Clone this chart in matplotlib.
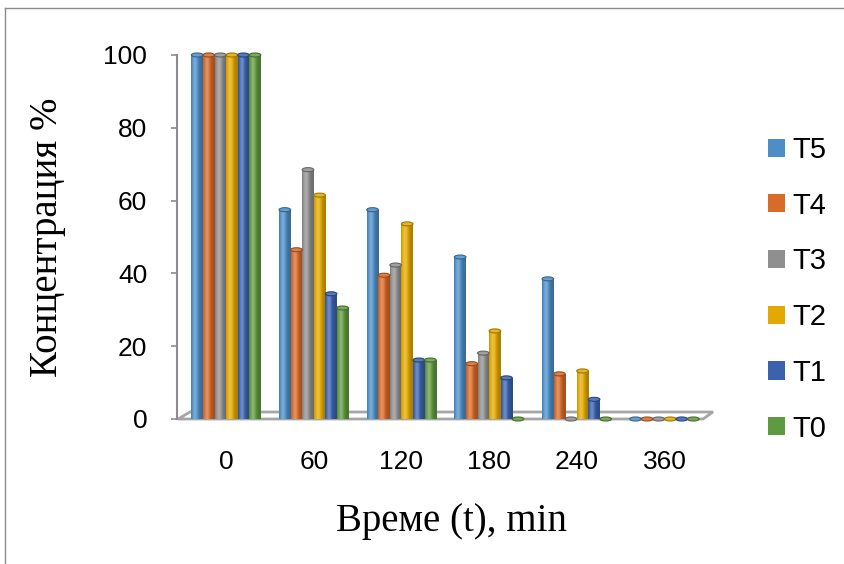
import numpy as np
import matplotlib
matplotlib.use('Agg')
import matplotlib.pyplot as plt
from matplotlib.patches import Ellipse, Polygon
from matplotlib.lines import Line2D
from matplotlib.colors import to_rgb

# data
times = ['0', '60', '120', '180', '240', '360']
series = ['T5', 'T4', 'T3', 'T2', 'T1', 'T0']
t5 = [100, 57.5, 57.5, 44.5, 38.5, 0]
t4 = [100, 46.5, 39.5, 15.2, 12.4, 0]
t3 = [100, 68.5, 42.3, 18.1, 0, 0]
t2 = [100, 61.5, 53.6, 24.2, 13.2, 0]
t1 = [100, 34.4, 16.2, 11.3, 5.4, 0]
t0 = [100, 30.5, 16.2, 0, 0, 0]
values = [t5, t4, t3, t2, t1, t0]
colors = ['#4e8ec7', '#d76b2a', '#8f8f8f', '#e3a900', '#3b62ad', '#609a40']

W, H = 844, 564
fig = plt.figure(figsize=(W / 100, H / 100), dpi=100)

# axes box in pixels: left 177, right 703, y=0 at 419, y=100 at 55
ax = fig.add_axes([177 / W, 1 - 419 / H, (703 - 177) / W, (419 - 55) / H])
ax.set_facecolor('none')

x = np.arange(len(times))
bw = 0.132
n = len(series)


def shade(rgb, t):
    # cylinder-like shading across the bar width
    k = 0.76 + 0.5 * np.exp(-((t - 0.33) / 0.28) ** 2)
    rgb = np.array(rgb)[None, :]
    k = k[:, None]
    dark = rgb * np.minimum(k, 1)
    light = rgb + (1 - rgb) * np.maximum(k - 1, 0)
    return np.where(k <= 1, dark, light)


px_per_unit = (419 - 55) / 100
cap_h = 4.0 / px_per_unit

bars = []
for i, (name, vals, col) in enumerate(zip(series, values, colors)):
    offs = (i - (n - 1) / 2) * bw
    b = ax.bar(x + offs, vals, width=bw, color=col, edgecolor='none',
               label=name, zorder=2)
    bars.append(b)
    rgb = to_rgb(col)
    grad = shade(rgb, np.linspace(0, 1, 40))[None, :, :]
    for p, v in zip(b.patches, vals):
        x0 = p.get_x()
        x1 = x0 + p.get_width()
        if v > 0:
            im = ax.imshow(grad, extent=[x0, x1, 0, v], aspect='auto',
                           interpolation='bilinear', zorder=2.1)
            im.set_clip_path(p)
        top_c = tuple(np.array(rgb) * 0.85 + 0.15)
        edge_c = tuple(np.array(rgb) * 0.7)
        ax.add_patch(Ellipse((x0 + p.get_width() / 2, v), p.get_width(),
                             cap_h, facecolor=top_c, edgecolor=edge_c,
                             linewidth=0.8, zorder=2.2, clip_on=False))

ax.set_xlim(-0.56, 5.44)
ax.set_ylim(0, 100)

# floor of the 3d plot
floor = [(178, 419), (703, 419), (713, 412), (190, 412)]
floor = [(px / W, 1 - py / H) for px, py in floor]
ax.add_artist(Polygon(floor, closed=True, transform=fig.transFigure,
                      facecolor='white', edgecolor='#a6a6a6', linewidth=2,
                      zorder=1, clip_on=False))

for s in ['top', 'right', 'bottom']:
    ax.spines[s].set_visible(False)
ax.spines['left'].set_color('#8c8c8c')
ax.spines['left'].set_linewidth(1.5)

ax.set_yticks([0, 20, 40, 60, 80, 100])
ax.set_xticks(x)
ax.set_xticklabels(times)
ax.tick_params(axis='y', length=4.5, width=1.2, color='#8c8c8c', pad=17,
               labelsize=19)
ax.tick_params(axis='x', length=0, pad=22, labelsize=19)
for lab in ax.get_xticklabels() + ax.get_yticklabels():
    lab.set_fontfamily('Liberation Sans')

fig.text(452 / W, 1 - 522 / H, 'Време (t), min', ha='center', va='center',
         fontsize=28, fontfamily='Liberation Serif')
fig.text(47 / W, 1 - 237 / H, 'Концентрация %', ha='center', va='center',
         rotation=90, fontsize=28, fontfamily='Liberation Serif')

leg = ax.legend(handles=bars, labels=series, loc='upper left',
                bbox_to_anchor=(768 / W, 1 - 136 / H),
                bbox_transform=fig.transFigure, frameon=False,
                prop={'family': 'Liberation Sans', 'size': 21},
                handlelength=0.58, handleheight=0.58, handletextpad=0.25,
                labelspacing=0.95, borderpad=0, borderaxespad=0)

# chart frame
fig.add_artist(Line2D([4.5 / W, 4.5 / W], [0, 1 - 8 / H],
                      transform=fig.transFigure, color='#8c8c8c', lw=1))
fig.add_artist(Line2D([4.5 / W, 1], [1 - 8 / H, 1 - 8 / H],
                      transform=fig.transFigure, color='#8c8c8c', lw=1))

fig.savefig('out.png', dpi=100)
